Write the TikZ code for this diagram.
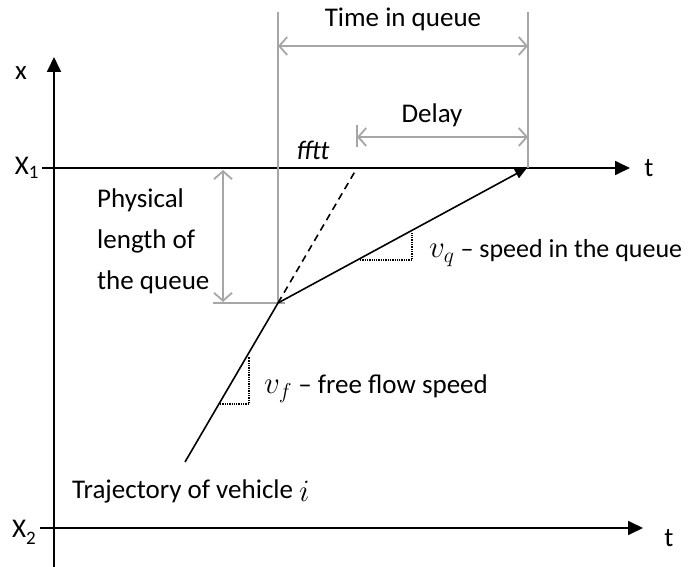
\documentclass[tikz,border=0pt]{standalone}
\usepackage{fontspec}
\setmainfont{Carlito}
\usetikzlibrary{arrows.meta}
\definecolor{dimgray}{RGB}{166,166,166}
\newcommand{\bigmath}[1]{\scalebox{1.25}{$#1$}}
\begin{document}
\begin{tikzpicture}[x=1pt,y=-1pt,
  axis/.style={line width=1.8pt,-{Triangle[length=15pt,width=14pt]}},
  traj/.style={line width=1.6pt},
  dim/.style={dimgray,line width=1.8pt},
  dimarrow/.style={dim,{Straight Barb[length=8pt,width=18pt]}-{Straight Barb[length=8pt,width=18pt]}},
  slope/.style={densely dotted,line width=1.3pt},
  lbl/.style={font=\fontsize{27}{32}\selectfont,inner sep=0pt}]
\useasboundingbox (0,0) rectangle (688,567);

% axes
\coordinate (ybot) at (54,567);
\coordinate (ytop) at (54,57);
\coordinate (a1s) at (42,168);
\coordinate (a1e) at (630,168);
\coordinate (a2s) at (40,528);
\coordinate (a2e) at (643,528);
\draw[axis] (ybot) -- (ytop);
\draw[axis] (a1s) -- (a1e);
\draw[axis] (a2s) -- (a2e);
\node[lbl] (xlab) at (21,73) {x};
\node[lbl] (x1lab) at (27,168) {X\textsubscript{1}};
\node[lbl] (x2lab) at (24,532) {X\raisebox{-7pt}{\fontsize{19}{20}\selectfont 2}};
\node[lbl] (t1lab) at (649,168) {t};
\node[lbl] (t2lab) at (669,538) {t};

% trajectory points
\coordinate (start) at (185,462);
\coordinate (knee) at (278,303);
\coordinate (fftt) at (357,168);
\coordinate (exit) at (527,168);

% dimension lines
\coordinate (g1t) at (278,12);
\coordinate (g2t) at (528,12);
\coordinate (g2b) at (528,168);
\coordinate (hl) at (213,303);
\coordinate (hr) at (285,303);
\draw[dim] (g1t) -- (knee);
\draw[dim] (g2t) -- (g2b);
\draw[dim] (hl) -- (hr);
\coordinate (tq1) at (278,46);
\coordinate (tq2) at (528,46);
\draw[dimarrow] (tq1) -- (tq2);
\coordinate (dl1) at (357,137);
\coordinate (dl2) at (528,137);
\coordinate (dt1) at (357,125);
\coordinate (dt2) at (357,147);
\draw[dimarrow] (dl1) -- (dl2);
\draw[dim] (dt1) -- (dt2);
\coordinate (pl1) at (223,170);
\coordinate (pl2) at (223,302);
\draw[dimarrow] (pl1) -- (pl2);

% trajectory of the vehicle
\draw[traj] (start) -- (knee);
\draw[traj,-{Triangle[length=12pt,width=10pt]}] (knee) -- (exit);
\draw[traj,dash pattern=on 7pt off 5pt] (knee) -- (fftt);

% slope marks
\coordinate (q1) at (360,260);
\coordinate (q2) at (412,260);
\coordinate (q3) at (412,232);
\draw[slope] (q1) -- (q2) -- (q3);
\coordinate (f1) at (220,404);
\coordinate (f2) at (249,404);
\coordinate (f3) at (249,357);
\draw[slope] (f1) -- (f2) -- (f3);

% labels
\node[lbl] (tiq) at (403,19) {Time in queue};
\node[lbl] (delay) at (432,115) {Delay};
\node[lbl] (ffttlab) at (313,150) {\itshape fftt};
\node[lbl,anchor=west,align=left,font=\fontsize{27}{41}\selectfont] (phys) at (97,241) {Physical\\length of\\the queue};
\node[lbl,anchor=west,font=\fontsize{26}{31}\selectfont] (vq) at (429,253) {\bigmath{v_q} – speed in the queue};
\node[lbl,anchor=west] (vf) at (264,389) {\bigmath{v_f} – free flow speed};
\node[lbl,anchor=west] (trajlab) at (72,491) {Trajectory of vehicle \raisebox{-3pt}{\bigmath{i}}};
\end{tikzpicture}
\end{document}
